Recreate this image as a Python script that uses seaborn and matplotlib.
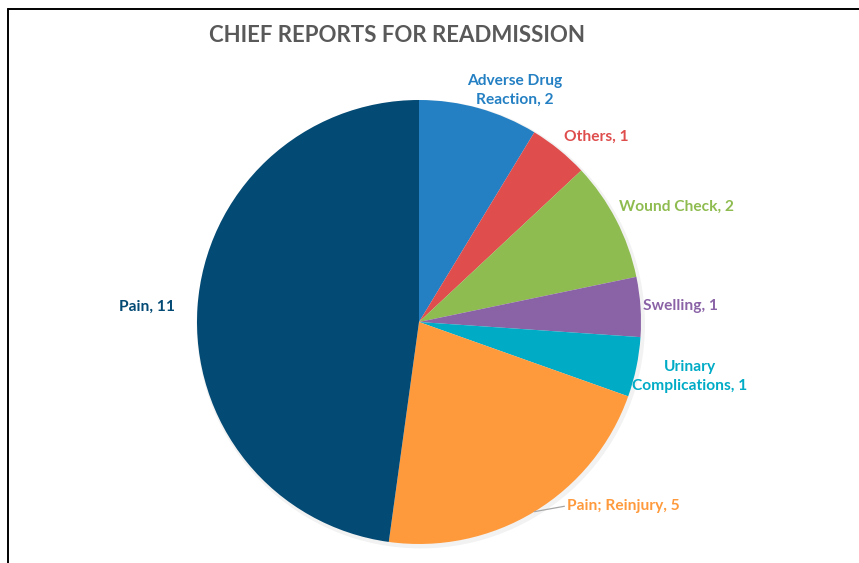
"""Pie chart of chief reports for readmission."""

import numpy as np
import matplotlib
matplotlib.use("Agg")
import matplotlib.pyplot as plt
from matplotlib.lines import Line2D
from matplotlib.patches import Circle
import seaborn as sns

categories = [
    "Adverse Drug\nReaction",
    "Others",
    "Wound Check",
    "Swelling",
    "Urinary\nComplications",
    "Pain; Reinjury",
    "Pain",
]
counts = [2, 1, 2, 1, 1, 5, 11]

palette = ["#2480C3", "#DF4D4D", "#8FBC50", "#8A63A6", "#00ABC6", "#FF9A3C", "#034A74"]

# label anchors (data units, pie radius = 1)
label_pos = [
    (0.43, 1.045),
    (0.80, 0.835),
    (1.16, 0.52),
    (1.18, 0.07),
    (1.22, -0.245),
    (0.665, -0.83),
    (-1.225, 0.07),
]
label_ha = ["center", "center", "center", "center", "center", "left", "center"]

sns.set_theme(style="white")
plt.rcParams["font.family"] = ["Lato", "DejaVu Sans"]

fig = plt.figure(figsize=(8.59, 5.63), dpi=100)
ax = fig.add_axes([0, 0, 1, 1])

# faint shadow behind the pie
ax.add_patch(Circle((0.008, -0.01), 1.01, color="#000000", alpha=0.05, lw=0, zorder=0))

wedges, _ = ax.pie(
    counts,
    colors=palette,
    startangle=90,
    counterclock=False,
    radius=1.0,
    wedgeprops={"linewidth": 0},
)
for w in wedges:
    w.set_zorder(1)

for name, n, (x, y), ha, c in zip(categories, counts, label_pos, label_ha, palette):
    ax.text(x, y, f"{name}, {n}", ha=ha, va="center", color=c,
            fontsize=11.2, fontweight="bold", linespacing=1.45)

# leader line for the reinjury slice
w = wedges[5]
mid = np.deg2rad((w.theta1 + w.theta2) / 2)
x0, y0 = np.cos(mid), np.sin(mid)
lx, ly = label_pos[5]
ax.plot([x0, lx - 0.01], [y0, ly], color="#A6A6A6", lw=0.9, zorder=2)

ax.set_xlim(-419 / 222, 440 / 222)
ax.set_ylim(-241 / 222, 322 / 222)
ax.set_aspect("equal")
ax.axis("off")

fig.text(397 / 859, 1 - 35 / 563, "CHIEF REPORTS FOR READMISSION", ha="center",
         va="center", fontsize=16, fontweight="bold", color="#595959")

# chart frame
fx, fy = 7.5 / 859, 1 - 8.5 / 563
fig.add_artist(Line2D([fx, fx], [0, fy], color="black", lw=1.4))
fig.add_artist(Line2D([fx, 1], [fy, fy], color="black", lw=1.4))

fig.savefig("out.png", dpi=100)
plt.close(fig)
